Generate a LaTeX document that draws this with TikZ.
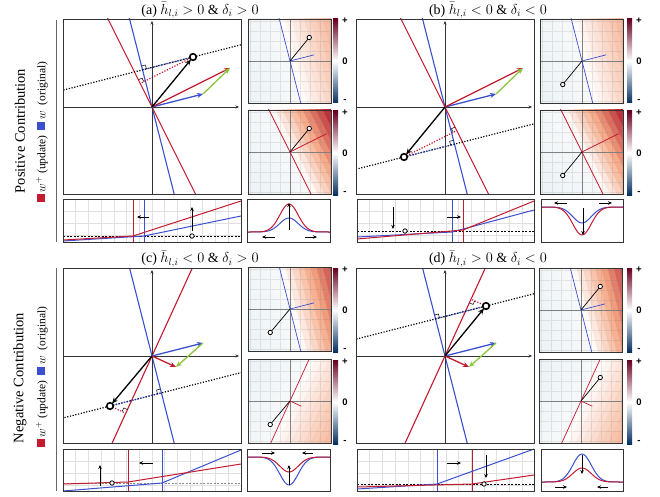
\documentclass[tikz,border=0pt]{standalone}
\usepackage{fontspec}
\setmainfont{Liberation Serif}
\newfontfamily\cbfont{Liberation Sans}
\usepackage{tikz}
\usetikzlibrary{arrows.meta,calc}
\definecolor{wBlue}{HTML}{3A50D0}
\definecolor{wRed}{HTML}{C41A30}
\definecolor{dGreen}{HTML}{8CC63F}
\definecolor{hRed}{HTML}{B2182B}
\definecolor{hSalmon}{HTML}{F4A582}
\definecolor{hSky}{HTML}{92C5DE}
\definecolor{cbRed}{HTML}{67001F}
\definecolor{cbOrange}{HTML}{D6604D}
\definecolor{cbMid}{HTML}{4393C3}
\definecolor{cbBlue}{HTML}{053061}

% main panel: origin, updated weight w+, input x
\newcommand{\mainpanel}[3]{%
  \begin{scope}[shift={#1}, y=1pt]
    \coordinate (o) at (0,0);
    \coordinate (w) at (51,13);
    \coordinate (wp) at #2;
    \coordinate (x) at #3;
    \coordinate (bw) at ($(o)!1!90:(w)$);
    \coordinate (bwp) at ($(o)!1!90:(wp)$);
    \coordinate (xw) at ($(x)-(o)+(w)$);
    \coordinate (fw) at ($(o)!(x)!(bw)$);
    \coordinate (fwp) at ($(o)!(x)!(bwp)$);
    \begin{scope}
      \clip (-89,-87) rectangle (89,88);
      \draw[bnd, wBlue] ($(o)!-8!(bw)$) -- ($(o)!8!(bw)$);
      \draw[bnd, wRed] ($(o)!-8!(bwp)$) -- ($(o)!8!(bwp)$);
      \draw[proj] ($(x)!-6!(xw)$) -- ($(x)!6!(xw)$);
    \end{scope}
    \draw[proj, wBlue] (x) -- (fw);
    \draw[proj, wRed] (x) -- (fwp);
    \draw[rmark] ($(fw)!4pt!(x)$) -- ($(fw)!4pt!(x)+(fw)!4pt!(bw)-(fw)$) -- ($(fw)!4pt!(bw)$);
    \draw[rmark] ($(fwp)!4pt!(x)$) -- ($(fwp)!4pt!(x)+(fwp)!4pt!(bwp)-(fwp)$) -- ($(fwp)!4pt!(bwp)$);
    \draw[axis] (0,-87) -- (0,86);
    \draw[axis] (-89,0) -- (87,0);
    \draw[vec, wBlue] (o) -- (w);
    \draw[vec, wRed] (o) -- (wp);
    \draw[vec, dGreen] (w) -- (wp);
    \draw[vec, shorten >=3.2pt] (o) -- (x);
    \draw[xdot] (x) circle[radius=3.3];
    \draw[frame] (-89,-87) rectangle (89,88);
  \end{scope}}

% heat panel: centre, weight, its angle, colour, input, shade step
\newcommand{\heatpanel}[6]{%
  \begin{scope}[shift={#1}, y=1pt]
    \begin{scope}
      \clip (-42,-42) rectangle (41,42);
      \begin{scope}[rotate=#3]
        \foreach \k in {0,...,13}{
          \pgfmathsetmacro\pb{min(16,3+1.2*\k)}
          \fill[hSky!\pb!white!96!gray] (-6*\k-6.3,-80) rectangle (-6*\k,80);
          \pgfmathsetmacro\pc{min(100,(\k+0.3)*#6)}
          \pgfmathsetmacro\pa{\pc<50 ? 2*\pc : 2*\pc-100}
          \ifdim\pc pt<50pt \colorlet{band}{hSalmon!\pa!white}\else\colorlet{band}{hRed!\pa!hSalmon}\fi
          \fill[band] (6*\k,-80) rectangle (6*\k+6.3,80);
        }
      \end{scope}
      \draw[hgrid] (-42,-42) grid[step=10pt] (41,42);
      \draw[haxis] (-42,0) -- (41,0) (0,-42) -- (0,42);
      \begin{scope}[scale=0.47]
        \draw[hline, #4] ($(0,0)!8!90:#2$) -- ($(0,0)!8!-90:#2$);
        \draw[hline, #4] (0,0) -- #2;
        \draw[hline] (0,0) -- #5;
        \coordinate (hx) at #5;
      \end{scope}
    \end{scope}
    \draw[odot] (hx) circle[radius=2.2];
    \draw[frame] (-42,-42) rectangle (41,42);
  \end{scope}}

% colour bar: name, left x, top y
\newcommand{\cbar}[3]{%
  \shade[top color=cbRed, middle color=cbOrange, bottom color=white] (#2,#3) rectangle ++(5,42);
  \shade[top color=white, middle color=cbMid, bottom color=cbBlue] (#2,#3+42) rectangle ++(5,42);
  \node[cbl] (#1p) at (#2+12,#3+2) {+};
  \node[cbl] (#1z) at (#2+12,#3+42) {0};
  \node[cbl] (#1m) at (#2+12,#3+82) {-};}

\newcommand{\stripgrid}[2]{%
  \draw[sgrid, shift={#1}] (0,0) grid[xstep=12.7pt, ystep=12pt] #2;}

\newcommand{\legline}{\textcolor{wRed}{\rule{8pt}{8pt}}\,$w^{+}$ (update)\enspace
  \textcolor{wBlue}{\rule{8pt}{8pt}}\,$w$ \ (original)}

\begin{document}
\begin{tikzpicture}[x=1pt, y=-1pt,
    frame/.style={draw=black!80, line width=0.9pt},
    bnd/.style={line width=1.1pt},
    proj/.style={line width=1.2pt, dash pattern=on 1.2pt off 1.6pt},
    rmark/.style={line width=0.5pt},
    axis/.style={line width=0.5pt, black!80, -{Stealth[length=3.5pt, width=3pt]}},
    vec/.style={line width=1.3pt, -{Stealth[length=6pt, width=5pt]}},
    xdot/.style={line width=1.6pt, fill=white},
    hgrid/.style={gray, opacity=0.18, line width=0.5pt},
    haxis/.style={black!50, line width=0.6pt},
    hline/.style={line width=0.7pt},
    sgrid/.style={black!12, line width=0.5pt},
    act/.style={line width=1pt},
    cut/.style={line width=0.8pt},
    zero/.style={line width=0.5pt, dash pattern=on 2pt off 1.5pt},
    nudge/.style={line width=0.8pt, -{Stealth[length=4pt, width=3.5pt]}},
    odot/.style={line width=0.8pt, fill=white},
    sep/.style={black!60, line width=0.9pt},
    ttl/.style={font=\fontsize{14}{16}\selectfont},
    side/.style={font=\fontsize{14.5}{16}\selectfont, rotate=90},
    leg/.style={font=\fontsize{11.5}{13}\selectfont, rotate=90},
    cbl/.style={font=\cbfont\bfseries\fontsize{9.5}{10}\selectfont, inner sep=0pt},
  ]
  \useasboundingbox (0,0) rectangle (660,497);

  % --- row labels ---
  \node[side] (pos) at (20,131) {Positive Contribution};
  \node[leg] (posleg) at (42,132) {\legline};
  \node[side] (neg) at (20,378) {Negative Contribution};
  \node[leg] (negleg) at (42,377) {\legline};
  \draw[sep] (56,20) -- (56,242);
  \draw[sep] (56,268) -- (56,491);

  % --- titles ---
  \node[ttl] (ta) at (200,10.5) {(a) $\bar{h}_{l,i} > 0$ \& $\delta_i > 0$};
  \node[ttl] (tb) at (488,10.5) {(b) $\bar{h}_{l,i} < 0$ \& $\delta_i < 0$};
  \node[ttl] (tc) at (200,259) {(c) $\bar{h}_{l,i} < 0$ \& $\delta_i > 0$};
  \node[ttl] (td) at (488,259) {(d) $\bar{h}_{l,i} > 0$ \& $\delta_i < 0$};

  % --- weight space ---
  \mainpanel{(152,107)}{(78,39)}{(41,50)}
  \mainpanel{(445,107)}{(78,39)}{(-41,-50)}
  \mainpanel{(152,356)}{(24,-11)}{(-42,-50)}
  \mainpanel{(445,356)}{(24,-11)}{(41,50)}

  % --- heat maps ---
  \heatpanel{(290,61)}{(51,13)}{14.3}{wBlue}{(41,50)}{5}
  \heatpanel{(290,152)}{(78,39)}{26.6}{wRed}{(41,50)}{11}
  \heatpanel{(582,61)}{(51,13)}{14.3}{wBlue}{(-41,-50)}{5}
  \heatpanel{(582,152)}{(78,39)}{26.6}{wRed}{(-41,-50)}{11}
  \heatpanel{(290,309)}{(51,13)}{14.3}{wBlue}{(-42,-50)}{10}
  \heatpanel{(290,401)}{(24,-11)}{-24.6}{wRed}{(-42,-50)}{4.5}
  \heatpanel{(581,310)}{(51,13)}{14.3}{wBlue}{(41,50)}{10}
  \heatpanel{(581,401)}{(24,-11)}{-24.6}{wRed}{(41,50)}{4.5}

  \cbar{ca1}{333}{19}  \cbar{ca2}{333}{111}
  \cbar{cb1}{627}{19}  \cbar{cb2}{627}{111}
  \cbar{cc1}{333}{268} \cbar{cc2}{333}{360}
  \cbar{cd1}{627}{268} \cbar{cd2}{627}{360}

  % --- activation strips ---
  \stripgrid{(63,199)}{(178,43)}
  \draw[zero] (63,236) -- (241,236);
  \draw[cut, wRed] (133,199) -- (133,242);
  \draw[cut, wBlue] (144,199) -- (144,242);
  \draw[act, wBlue] (63,241) -- (144,236) -- (241,216);
  \draw[act, wRed] (63,240) -- (133,236) -- (241,201);
  \draw[nudge] (192,231) -- (192,207);
  \draw[nudge] (149,217) -- (137,217);
  \draw[odot] (192,236) circle[radius=2.2];
  \draw[frame] (63,199) rectangle (241,242);

  \stripgrid{(357,199)}{(177,43)}
  \draw[zero] (357,231) -- (534,231);
  \draw[cut, wBlue] (452,199) -- (452,242);
  \draw[cut, wRed] (463,199) -- (463,242);
  \draw[act, wBlue] (357,237) -- (452,232) -- (534,210);
  \draw[act, wRed] (357,239) -- (463,230) -- (534,201);
  \draw[nudge] (393,207) -- (393,229);
  \draw[nudge] (447,217) -- (461,217);
  \draw[odot] (405,231) circle[radius=2.2];
  \draw[frame] (357,199) rectangle (534,242);

  \stripgrid{(63,449)}{(178,42)}
  \draw[zero, black!45, line width=0.9pt] (63,483) -- (241,483);
  \draw[cut, wRed] (128,449) -- (128,491);
  \draw[cut, wBlue] (162,449) -- (162,491);
  \draw[act, wBlue] (63,491) -- (162,483) -- (241,450);
  \draw[act, wRed] (63,484) -- (128,482) -- (241,464);
  \draw[nudge] (100,486) -- (100,465);
  \draw[nudge] (153,463) -- (139,463);
  \draw[odot] (112,483) circle[radius=2.2];
  \draw[frame] (63,449) rectangle (241,491);

  \stripgrid{(357,449)}{(177,42)}
  \draw[zero] (357,484) -- (534,484);
  \draw[cut, wBlue] (437,449) -- (437,491);
  \draw[cut, wRed] (472,449) -- (472,491);
  \draw[act, wBlue] (357,489) -- (437,484) -- (534,449);
  \draw[act, wRed] (357,487) -- (472,484) -- (534,475);
  \draw[nudge] (486,455) -- (486,478);
  \draw[nudge] (447,463) -- (461,463);
  \draw[odot] (484,484) circle[radius=2.2];
  \draw[frame] (357,449) rectangle (534,491);

  % --- gradient bumps ---
  \draw[act, wBlue] plot[domain=247:330, samples=60] (\x, {232-14*exp(-(((\x-289)/13)^2))});
  \draw[act, wRed] plot[domain=247:330, samples=60] (\x, {232-28*exp(-(((\x-289)/13)^2))});
  \draw[nudge] (289,230) -- (289,203);
  \draw[nudge] (275,237) -- (262,237);
  \draw[nudge] (305,237) -- (317,237);
  \draw[frame] (247,199) rectangle (330,242);

  \draw[act, wBlue] plot[domain=541:623, samples=60] (\x, {207+16*exp(-(((\x-582)/13)^2))});
  \draw[act, wRed] plot[domain=541:623, samples=60] (\x, {207+28*exp(-(((\x-582)/13)^2))});
  \draw[nudge] (583,208) -- (583,235);
  \draw[nudge] (567,203) -- (554,203);
  \draw[nudge] (599,203) -- (612,203);
  \draw[frame] (541,199) rectangle (623,242);

  \draw[act, wBlue] plot[domain=247:330, samples=60] (\x, {457+28*exp(-(((\x-289)/13)^2))});
  \draw[act, wRed] plot[domain=247:330, samples=60] (\x, {457+15*exp(-(((\x-289)/13)^2))});
  \draw[nudge] (289,485) -- (289,465);
  \draw[nudge] (262,453) -- (275,453);
  \draw[nudge] (313,453) -- (302,453);
  \draw[frame] (247,449) rectangle (330,491);

  \draw[act, wBlue] plot[domain=541:623, samples=60] (\x, {482-28*exp(-(((\x-582)/13)^2))});
  \draw[act, wRed] plot[domain=541:623, samples=60] (\x, {482-14*exp(-(((\x-582)/13)^2))});
  \draw[nudge] (582,455) -- (582,474);
  \draw[nudge] (555,487) -- (567,487);
  \draw[nudge] (608,487) -- (597,487);
  \draw[frame] (541,449) rectangle (623,491);

\end{tikzpicture}
\end{document}
